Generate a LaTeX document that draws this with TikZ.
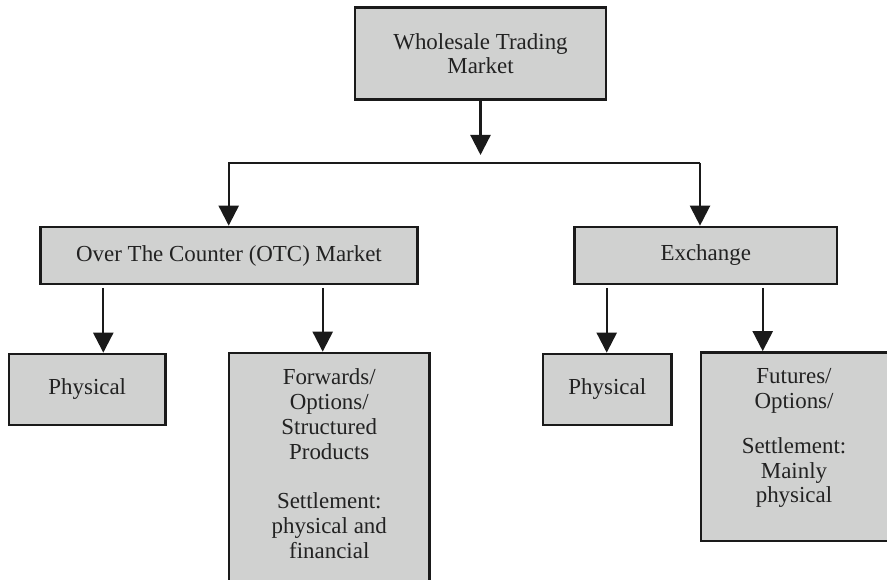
\documentclass[tikz,border=0pt]{standalone}
\usepackage{fontspec}
\setmainfont{Liberation Serif}
\usetikzlibrary{arrows.meta}
\definecolor{boxfill}{RGB}{208,209,208}
\definecolor{ink}{RGB}{26,26,26}
\definecolor{txt}{RGB}{34,34,34}
\begin{document}
\begin{tikzpicture}[x=0.75pt,y=-0.75pt,
  box/.style={draw=ink, fill=boxfill, line width=2pt, rectangle, inner sep=0pt,
    align=center, text=txt, font=\fontsize{17.2}{18.4}\selectfont},
  boxtext/.style={inner sep=0pt, align=center, text=txt,
    font=\fontsize{17.2}{18.7}\selectfont},
  conn/.style={draw=ink, line width=1.7pt},
  arr/.style={conn, -{Triangle[length=15pt,width=15pt]}}
]
\clip (0,0) rectangle (887,580);
\fill[white] (0,0) rectangle (887,580);

% boxes
\node[box, minimum width=188.25pt, minimum height=69pt] (top) at (480.5,53.5)
  {Wholesale Trading\\Market};
\node[box, minimum width=282.75pt, minimum height=42.75pt] (otc) at (229,255.5)
  {Over The Counter (OTC) Market};
\node[box, minimum width=196.9pt, minimum height=42.75pt] (exch) at (705.75,255.5)
  {Exchange};
\node[box, minimum width=117.4pt, minimum height=53.25pt] (phys1) at (87.25,389.5)
  {Physical};
\node[box, minimum width=150.4pt, minimum height=200.25pt] (fwd) at (329.25,486.5) {};
\node[boxtext, anchor=north] (fwdtext) at (329.25,368.5)
  {Forwards/\\Options/\\Structured\\Products\\[18pt]Settlement:\\physical and\\financial};
\node[box, minimum width=96.4pt, minimum height=53.25pt] (phys2) at (607.25,389.5)
  {Physical};
\node[box, minimum width=149.25pt, minimum height=141.4pt] (fut) at (800.5,446.75) {};
\node[boxtext, anchor=north, font=\fontsize{17.2}{18.2pt}\selectfont] (futtext) at (794,368.5)
  {Futures/\\Options/\\[16pt]Settlement:\\Mainly\\physical};

% connectors
\coordinate (hub) at (480.5,155);
\coordinate (busL) at (228.7,163);
\coordinate (busR) at (700,163);
\draw[arr] (top.south) -- (hub);
\draw[arr, line join=miter] (busR) -- (busL) -- (busL |- otc.north);
\draw[arr] (busR) -- (busR |- exch.north);

\coordinate (o1) at (103.3,288);
\coordinate (o2) at (322.7,288);
\coordinate (e1) at (606.7,288);
\coordinate (e2) at (762.7,288);
\draw[arr] (o1) -- (o1 |- phys1.north);
\draw[arr] (o2) -- (o2 |- fwd.north);
\draw[arr] (e1) -- (e1 |- phys2.north);
\draw[arr] (e2) -- (e2 |- fut.north);
\end{tikzpicture}
\end{document}
